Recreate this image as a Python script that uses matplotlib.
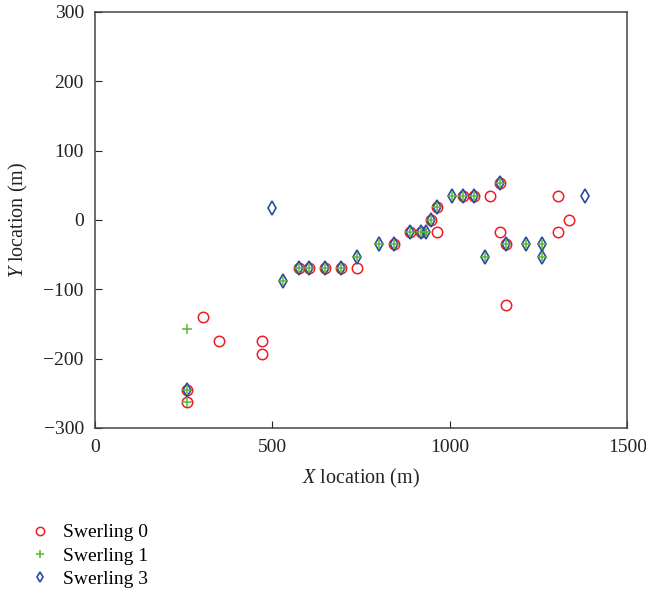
import matplotlib
matplotlib.use('Agg')
import matplotlib.pyplot as plt
import numpy as np

plt.rcParams['font.family'] = ['Liberation Serif', 'DejaVu Serif']
plt.rcParams['mathtext.fontset'] = 'custom'
plt.rcParams['mathtext.it'] = 'Liberation Serif:italic'
plt.rcParams['mathtext.rm'] = 'Liberation Serif'

# Swerling 0 detections
x0 = [260, 260, 305, 350, 471, 471, 574, 603, 649, 694, 739, 843, 888, 918,
      963, 948, 963, 1037, 1068, 1112, 1142, 1142, 1157, 1157, 1306, 1306, 1336]
y0 = [-263, -246, -140, -175, -175, -193, -70, -70, -70, -70, -70, -35, -17, -17,
      -17, 0, 18, 35, 35, 35, 53, -17, -35, -123, 35, -17, 0]

# Swerling 1 detections
x1 = [260, 260, 260, 529, 574, 603, 649, 694, 739, 799, 843, 888, 918, 933,
      948, 963, 1007, 1037, 1068, 1142, 1098, 1157, 1216, 1261, 1261]
y1 = [-263, -246, -158, -88, -70, -70, -70, -70, -53, -35, -35, -17, -17, -17,
      0, 18, 35, 35, 35, 53, -53, -35, -35, -35, -53]

# Swerling 3 detections
x3 = [260, 500, 529, 574, 603, 649, 694, 739, 799, 843, 888, 918, 933,
      948, 963, 1007, 1037, 1068, 1142, 1098, 1157, 1216, 1261, 1261, 1380]
y3 = [-246, 17, -88, -70, -70, -70, -70, -53, -35, -35, -17, -17, -17,
      0, 18, 35, 35, 35, 53, -53, -35, -35, -35, -53, 35]

fig = plt.figure(figsize=(6.46, 6.0), dpi=100)
ax = fig.add_axes([0.147, 0.287, 0.824, 0.693])

h0, = ax.plot(x0, y0, 'o', ls='none', mfc='none', mec='#ee1c25', mew=1.1, ms=7.5,
              label='Swerling 0')
h3, = ax.plot(x3, y3, 'd', ls='none', mfc='none', mec='#2b4aa0', mew=1.2, ms=7,
              label='Swerling 3')
h1, = ax.plot(x1, y1, '+', ls='none', color='#5cb82e', mew=1.1, ms=6.5,
              label='Swerling 1')

ax.set_xlim(0, 1500)
ax.set_ylim(-300, 300)
ax.set_xticks([0, 500, 1000, 1500])
ax.set_yticks(np.arange(-300, 301, 100))
ax.tick_params(direction='in', length=5, labelsize=14, top=False, right=False,
               colors='#222222')
ax.tick_params(axis='x', pad=8)
ax.tick_params(axis='y', pad=8)
for s in ax.spines.values():
    s.set_color('#444444')
    s.set_linewidth(1.1)

ax.set_xlabel('$\\mathit{X}$ location (m)', fontsize=14.5, color='#222222', labelpad=8)
ax.set_ylabel('$\\mathit{Y}$ location (m)', fontsize=14.5, color='#222222', labelpad=10)

fig.legend(handles=[h0, h1, h3], loc='upper left', bbox_to_anchor=(0.035, 0.14),
           frameon=False, fontsize=14, handlelength=1.0, handletextpad=0.7,
           labelspacing=0.3, borderaxespad=0, markerscale=0.8)

fig.savefig('out.png', dpi=100)
